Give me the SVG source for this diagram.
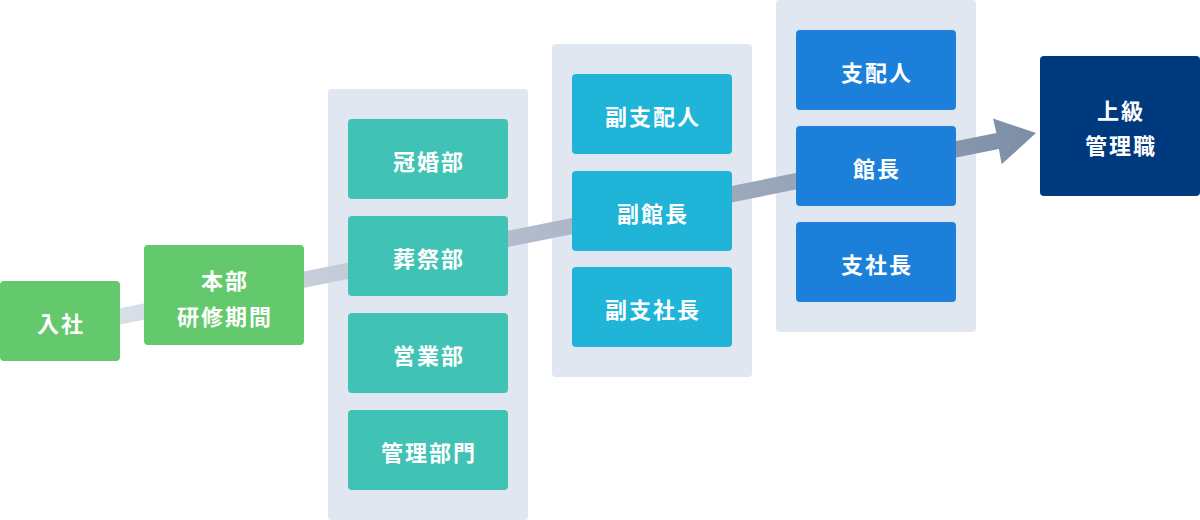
<svg xmlns="http://www.w3.org/2000/svg" width="1200" height="520" viewBox="0 0 1200 520">
<defs>
<style>
.bg{fill:#e1e7f0}
.t{font-family:"Noto Sans CJK JP","Noto Sans",sans-serif;font-weight:700;font-size:22px;fill:#fff;text-anchor:middle;dominant-baseline:central;letter-spacing:2px}
.g{fill:#64c96c}
.c{fill:#40c3b4}
.s{fill:#1fb4d8}
.b{fill:#1c80db}
.n{fill:#003a7e}
</style>
<linearGradient id="ag" gradientUnits="userSpaceOnUse" x1="120" y1="316" x2="1036" y2="133">
<stop offset="0" stop-color="#d9dfe8"/>
<stop offset="1" stop-color="#7d8fa7"/>
</linearGradient>
</defs>
<rect width="1200" height="520" fill="#fff"/>
<g id="groups">
<rect id="grp1" class="bg" x="328" y="89" width="200" height="431" rx="4"/>
<rect id="grp2" class="bg" x="552" y="44" width="200" height="333" rx="4"/>
<rect id="grp3" class="bg" x="776" y="0" width="200" height="332" rx="4"/>
</g>
<g id="connectors">
<polygon fill="url(#ag)" points="58.4,320.5 996.4,133.0 993,118.5 1036,133 1001.6,164.3 998.9,149.0 61.6,336.2"/>
</g>
<g id="n-nyusha"><rect class="g" x="0" y="281" width="120" height="80" rx="4"/><text class="t" x="61" y="322">入社</text></g>
<g id="n-kenshu"><rect class="g" x="144" y="245" width="160" height="100" rx="4"/><text class="t" x="225" y="279">本部</text><text class="t" x="225" y="315">研修期間</text></g>
<g id="n-konkon"><rect class="c" x="348" y="119" width="160" height="80" rx="4"/><text class="t" x="429" y="160">冠婚部</text></g>
<g id="n-sosai"><rect class="c" x="348" y="216" width="160" height="80" rx="4"/><text class="t" x="429" y="257">葬祭部</text></g>
<g id="n-eigyo"><rect class="c" x="348" y="313" width="160" height="80" rx="4"/><text class="t" x="429" y="354">営業部</text></g>
<g id="n-kanri"><rect class="c" x="348" y="410" width="160" height="80" rx="4"/><text class="t" x="429" y="451">管理部門</text></g>
<g id="n-fukushihainin"><rect class="s" x="572" y="74" width="160" height="80" rx="4"/><text class="t" x="653" y="115">副支配人</text></g>
<g id="n-fukukancho"><rect class="s" x="572" y="171" width="160" height="80" rx="4"/><text class="t" x="653" y="212">副館長</text></g>
<g id="n-fukushisha"><rect class="s" x="572" y="267" width="160" height="80" rx="4"/><text class="t" x="653" y="308">副支社長</text></g>
<g id="n-shihainin"><rect class="b" x="796" y="30" width="160" height="80" rx="4"/><text class="t" x="877" y="71">支配人</text></g>
<g id="n-kancho"><rect class="b" x="796" y="126" width="160" height="80" rx="4"/><text class="t" x="877" y="167">館長</text></g>
<g id="n-shishacho"><rect class="b" x="796" y="222" width="160" height="80" rx="4"/><text class="t" x="877" y="263">支社長</text></g>
<g id="n-jokyu"><rect class="n" x="1040" y="56" width="160" height="140" rx="4"/><text class="t" x="1121" y="109">上級</text><text class="t" x="1121" y="144">管理職</text></g>
</svg>
